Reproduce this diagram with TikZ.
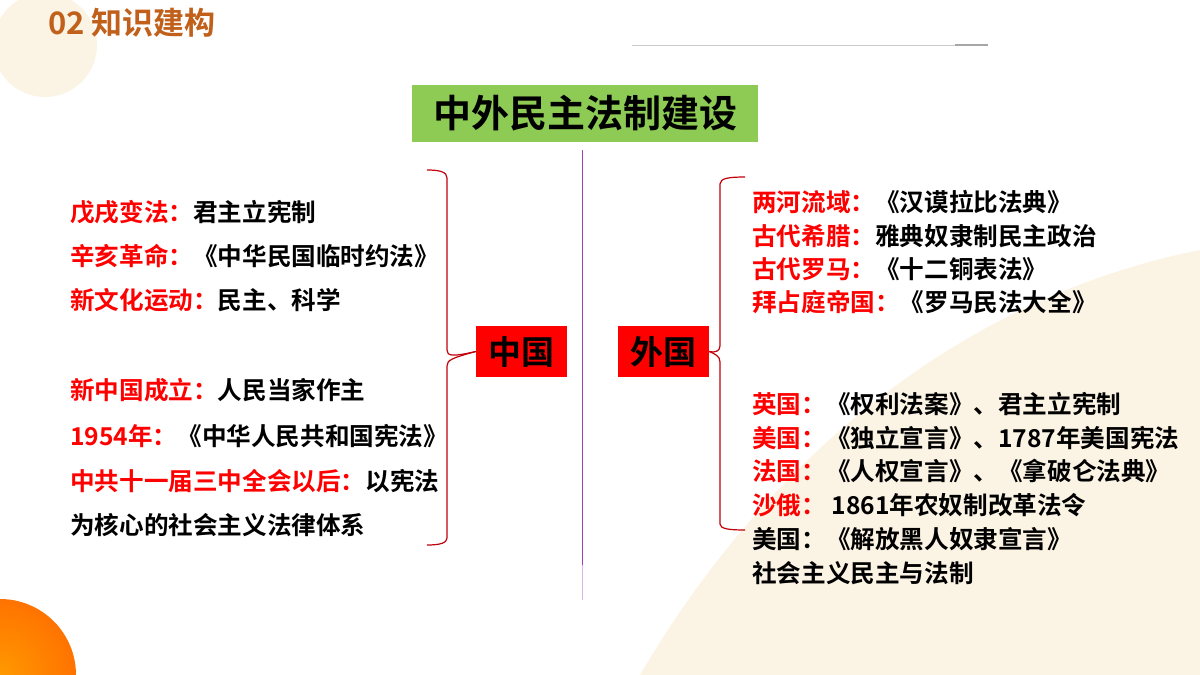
\documentclass[tikz,border=0pt]{standalone}
\usepackage{fontspec}
\newfontfamily\cjk{Noto Sans CJK SC Bold}
\definecolor{beige}{HTML}{FBF3E4}
\definecolor{brown}{HTML}{C0601A}
\definecolor{grn}{HTML}{8DCB55}
\definecolor{rd}{HTML}{FF0000}
\definecolor{brace}{HTML}{C0000A}
\definecolor{purp}{HTML}{A040C0}
\begin{document}
\begin{tikzpicture}[x=1pt,y=-1pt,
  txt/.style={anchor=west,inner sep=0pt,font=\cjk\fontsize{24.6}{24.6}\selectfont},
  box/.style={fill=rd,minimum width=91pt,minimum height=51pt,inner sep=0pt,font=\cjk\fontsize{33}{33}\selectfont},
  br/.style={draw=brace,line width=1.2pt}]
\useasboundingbox (0,0) rectangle (1200,675);
% background decorations
\begin{scope}
\clip (0,0) rectangle (1200,675);
\fill[beige] (45,45) circle (52);
\fill[beige] (1200,250) .. controls (950,300) and (760,470) .. (640,675) -- (1200,675) -- cycle;
\shade[inner color=orange!80!yellow,outer color=orange!90!red] (0,675) circle (76);
\end{scope}
\node[anchor=west,inner sep=0pt,text=brown,font=\cjk\fontsize{31}{31}\selectfont] (t) at (48,23) {02 知识建构};
\draw[gray!40,line width=0.8pt] (632,45) -- (988,45);
\draw[gray!70,line width=2pt] (955,45) -- (988,45);
% title
\node[fill=grn,minimum width=346pt,minimum height=57pt,inner sep=0pt,font=\cjk\fontsize{38}{38}\selectfont] (main) at (585,113.5) {中外民主法制建设};
\coordinate (vb) at (582,565);
\draw[purp,line width=0.8pt] (582,150) -- (vb);
\draw[purp!40,line width=0.8pt] (vb) -- (582,600);
% category boxes
\node[box] (cn) at (521.5,351.5) {中国};
\node[box] (fr) at (663.5,351.5) {外国};
% braces
\draw[br] (427,170) .. controls (440,170) and (447,172) .. (447,178) -- (447,350) .. controls (447,356) and (452,357) .. (cn.west);
\draw[br] (cn.west) .. controls (452,358) and (447,360) .. (447,366) -- (447,538) .. controls (447,543) and (440,545) .. (427,545);
\draw[br] (745,177) .. controls (730,177) and (720,178) .. (720,184) -- (720,346) .. controls (720,351) and (715,353) .. (fr.east);
\draw[br] (fr.east) .. controls (715,354) and (720,356) .. (720,362) -- (720,524) .. controls (720,529) and (730,530) .. (745,530);
% left texts
\node[txt] (l1) at (70,212) {\textcolor{rd}{戊戌变法：}君主立宪制};
\node[txt] (l2) at (70,256) {\textcolor{rd}{辛亥革命：}《中华民国临时约法》};
\node[txt] (l3) at (70,300) {\textcolor{rd}{新文化运动：}民主、科学};
\node[txt] (l4) at (70,390) {\textcolor{rd}{新中国成立：}人民当家作主};
\node[txt] (l5) at (70,436) {\textcolor{rd}{1954年：}《中华人民共和国宪法》};
\node[txt] (l6) at (70,481) {\textcolor{rd}{中共十一届三中全会以后：}以宪法};
\node[txt] (l7) at (70,525) {为核心的社会主义法律体系};
% right texts
\node[txt] (r1) at (752,202) {\textcolor{rd}{两河流域：}《汉谟拉比法典》};
\node[txt] (r2) at (752,236) {\textcolor{rd}{古代希腊：}雅典奴隶制民主政治};
\node[txt] (r3) at (752,269) {\textcolor{rd}{古代罗马：}《十二铜表法》};
\node[txt] (r4) at (752,302) {\textcolor{rd}{拜占庭帝国：}《罗马民法大全》};
\node[txt] (r5) at (752,404) {\textcolor{rd}{英国：}《权利法案》、君主立宪制};
\node[txt] (r6) at (752,438) {\textcolor{rd}{美国：}《独立宣言》、1787年美国宪法};
\node[txt] (r7) at (752,471) {\textcolor{rd}{法国：}《人权宣言》、《拿破仑法典》};
\node[txt] (r8) at (752,505) {\textcolor{rd}{沙俄：} 1861年农奴制改革法令};
\node[txt] (r9) at (752,539) {美国：《解放黑人奴隶宣言》};
\node[txt] (r10) at (752,573) {社会主义民主与法制};
\end{tikzpicture}
\end{document}
